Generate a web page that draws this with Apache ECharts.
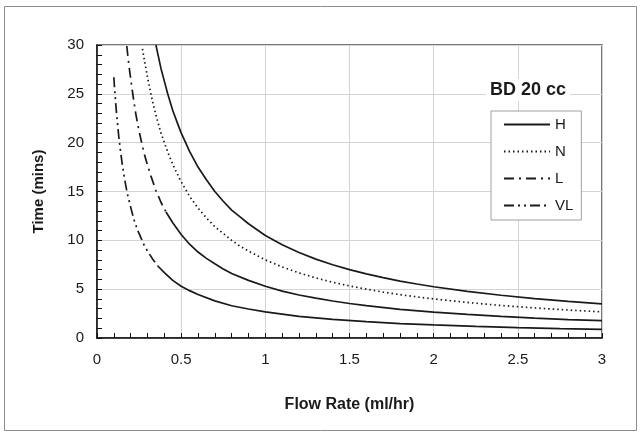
<!DOCTYPE html>
<html>
<head>
<meta charset="utf-8">
<script src="https://cdn.jsdelivr.net/npm/echarts@6/dist/echarts.min.js"></script>
<style>
html,body{margin:0;padding:0;background:#fff;}
#chart{width:641px;height:434px;}
</style>
</head>
<body>
<div id="chart"></div>
<script>
// Flow rate (ml/hr) and time (mins)
var hFlow = [0.35,0.36,0.38,0.4,0.42,0.45,0.48,0.5,0.55,0.6,0.65,0.7,0.75,0.8,0.85,0.9,1,1.1,1.2,1.3,1.4,1.5,1.6,1.7,1.8,1.9,2,2.2,2.4,2.6,2.8,3];
var hTime = [30,29.2,27.6,26.3,25,23.3,21.9,21,19.1,17.5,16.2,15,14,13.1,12.4,11.7,10.5,9.55,8.75,8.08,7.5,7,6.56,6.18,5.83,5.53,5.25,4.77,4.38,4.04,3.75,3.5];

var nFlow = [0.27,0.28,0.3,0.32,0.34,0.36,0.38,0.4,0.43,0.46,0.5,0.55,0.6,0.65,0.7,0.75,0.8,0.85,0.9,1,1.1,1.2,1.3,1.4,1.5,1.6,1.7,1.8,1.9,2,2.2,2.4,2.6,2.8,3];
var nTime = [29.6,28.6,26.7,25,23.5,22.2,21,20,18.6,17.4,16,14.5,13.3,12.3,11.4,10.7,10,9.4,8.9,8,7.27,6.67,6.15,5.71,5.33,5,4.7,4.44,4.21,4,3.64,3.33,3.08,2.86,2.67];

var lFlow = [0.177,0.185,0.195,0.205,0.215,0.23,0.245,0.26,0.28,0.3,0.32,0.35,0.38,0.41,0.45,0.5,0.55,0.6,0.65,0.7,0.75,0.8,0.9,1,1.1,1.2,1.3,1.4,1.5,1.6,1.8,2,2.2,2.4,2.6,2.8,3];
var lTime = [29.9,28.6,27.2,25.9,24.7,23,21.6,20.4,18.9,17.7,16.6,15.1,13.9,12.9,11.8,10.6,9.6,8.8,8.15,7.6,7.07,6.6,5.9,5.3,4.8,4.4,4.08,3.79,3.53,3.31,2.94,2.65,2.41,2.21,2.04,1.89,1.77];
var lDashedCount = 14; // steep part drawn dashed

var vlFlow = [0.1,0.105,0.11,0.115,0.12,0.125,0.13,0.14,0.15,0.16,0.17,0.18,0.19,0.2,0.22,0.24,0.26,0.28,0.3,0.33,0.36,0.4,0.45,0.5,0.55,0.6,0.7,0.8,0.9,1,1.2,1.4,1.6,1.8,2,2.25,2.5,2.75,3];
var vlTime = [26.7,25.4,24.3,23.2,22.3,21.4,20.5,19.1,17.8,16.7,15.7,14.8,14.1,13.4,12.1,11.1,10.3,9.5,8.9,8.1,7.4,6.7,5.9,5.3,4.85,4.45,3.8,3.3,2.97,2.67,2.22,1.91,1.67,1.48,1.34,1.19,1.07,0.97,0.89];
var vlDashedCount = 21;

var xTicks = [0,0.5,1,1.5,2,2.5,3];
var yTicks = [0,5,10,15,20,25,30];
var seriesNames = ['H','N','L','VL'];

function pairs(xs, ys, a, b){
  var out = [];
  for (var i = a; i < b; i++) out.push([xs[i], ys[i]]);
  return out;
}

var FONT = '"Liberation Sans", Arial, sans-serif';
var INK = '#1a1a1a';

function lineSeries(name, data, type){
  return {
    name: name, type: 'line', data: data, symbol: 'none', showSymbol: false,
    silent: true,
    lineStyle: {color: INK, width: 1.7, type: type},
    itemStyle: {color: INK}
  };
}

var chart = echarts.init(document.getElementById('chart'), null, {renderer: 'canvas'});
chart.setOption({
  animation: false,
  backgroundColor: '#fff',
  graphic: [{
    type: 'rect', shape: {x: 4.5, y: 6.5, width: 632, height: 424},
    style: {fill: 'none', stroke: '#8c8c8c', lineWidth: 1}, z: -1
  }],
  title: {
    text: 'BD 20 cc', left: 486, top: 79, padding: [2, 4],
    backgroundColor: '#fff',
    textStyle: {fontFamily: FONT, fontSize: 18, fontWeight: 'bold', color: INK}
  },
  legend: {
    data: seriesNames, orient: 'vertical', left: 491, top: 111,
    padding: [6, 8, 7, 12], itemWidth: 46, itemHeight: 14, itemGap: 12,
    backgroundColor: '#fff', borderColor: '#a0a0a0', borderWidth: 1,
    itemStyle: {opacity: 0},
    textStyle: {fontFamily: FONT, fontSize: 15, color: INK},
    selectedMode: false
  },
  grid: {left: 97, right: 39, top: 45, bottom: 96, show: true,
    borderColor: '#4a4a4a', borderWidth: 1.5, backgroundColor: 'transparent'},
  xAxis: {
    type: 'value', min: xTicks[0], max: xTicks[xTicks.length - 1], interval: 0.5,
    name: 'Flow Rate (ml/hr)', nameLocation: 'middle', nameGap: 59,
    nameTextStyle: {fontFamily: FONT, fontSize: 16, fontWeight: 'bold', color: INK},
    axisLine: {onZero: false, lineStyle: {color: '#111', width: 1.5}},
    axisTick: {show: true, inside: true, length: 5, lineStyle: {color: '#111'}},
    minorTick: {show: true, splitNumber: 5, length: 5, lineStyle: {color: '#111'}},
    axisLabel: {fontFamily: FONT, fontSize: 15, color: INK, margin: 14},
    splitLine: {show: true, lineStyle: {color: '#d4d4d4', width: 1}}
  },
  yAxis: {
    type: 'value', min: yTicks[0], max: yTicks[yTicks.length - 1], interval: 5,
    name: 'Time (mins)', nameLocation: 'middle', nameGap: 51,
    nameTextStyle: {fontFamily: FONT, fontSize: 15, fontWeight: 'bold', color: INK},
    axisLine: {show: true, onZero: false, lineStyle: {color: '#111', width: 1.5}},
    axisTick: {show: true, inside: true, length: 5, lineStyle: {color: '#111'}},
    minorTick: {show: true, splitNumber: 5, length: 5, lineStyle: {color: '#111'}},
    axisLabel: {fontFamily: FONT, fontSize: 15, color: INK, margin: 13},
    splitLine: {show: true, lineStyle: {color: '#d4d4d4', width: 1}}
  },
  series: [
    lineSeries('H', pairs(hFlow, hTime, 0, hFlow.length), 'solid'),
    lineSeries('N', pairs(nFlow, nTime, 0, nFlow.length), [1.5, 3]),
    lineSeries('L', pairs(lFlow, lTime, 0, lDashedCount), [10, 5, 2, 5]),
    lineSeries('L ', pairs(lFlow, lTime, lDashedCount - 1, lFlow.length), 'solid'),
    lineSeries('VL', pairs(vlFlow, vlTime, 0, vlDashedCount), [10, 4, 2, 4, 2, 4]),
    lineSeries('VL ', pairs(vlFlow, vlTime, vlDashedCount - 1, vlFlow.length), 'solid')
  ]
});
</script>
</body>
</html>
